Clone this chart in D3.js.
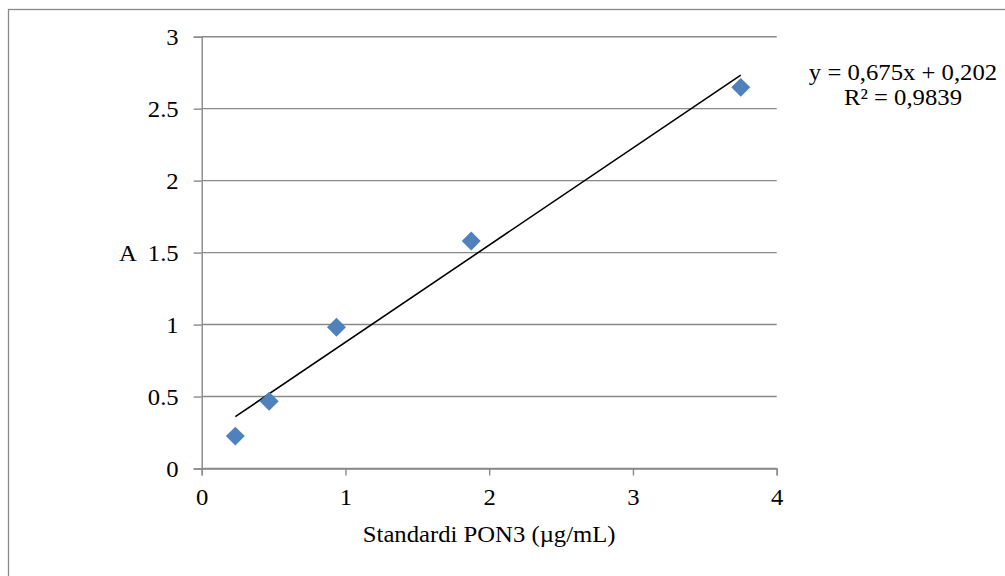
<!DOCTYPE html>
<html>
<head>
<meta charset="utf-8">
<script src="https://cdn.jsdelivr.net/npm/d3@7"></script>
<style>
  html, body { margin: 0; padding: 0; background: #fff; }
  svg { display: block; }
  text { font-family: "Liberation Serif", "Times New Roman", serif; fill: #000; }
</style>
</head>
<body>
<svg id="chart" width="1005" height="576"></svg>
<script>
// ---- data ----
const xValues = [0.234, 0.469, 0.9375, 1.875, 3.75];
const yValues = [0.225, 0.467, 0.982, 1.581, 2.648];
const xTicks = [0, 1, 2, 3, 4];
const yTicks = [0, 0.5, 1, 1.5, 2, 2.5, 3];
const trendSlope = 0.675;
const trendIntercept = 0.202;
const equationLines = ["y = 0,675x + 0,202", "R\u00B2 = 0,9839"];
const xTitle = "Standardi PON3 (\u00B5g/mL)";
const yTitle = "A";

// ---- layout ----
const W = 1005, H = 576;
const plot = { left: 201.7, right: 776.7, top: 36.7, bottom: 468.5 };
const fontSize = 23.5;
const stretch = 1.05;
const gridColor = "#898989";
const markerColor = "#4F81BD";
const serif = "'Liberation Serif', 'Times New Roman', serif";

const svg = d3.select("#chart");

// chart area border (left and top visible)
svg.append("rect")
  .attr("x", 8.5).attr("y", 9.5)
  .attr("width", W + 10).attr("height", H + 10)
  .attr("fill", "#fff")
  .attr("stroke", gridColor).attr("stroke-width", 1.3);

const x = d3.scaleLinear().domain([0, 4]).range([plot.left, plot.right]);
const y = d3.scaleLinear().domain([0, 3]).range([plot.bottom, plot.top]);

// gridlines
svg.append("g")
  .selectAll("line")
  .data(yTicks)
  .join("line")
  .attr("x1", plot.left).attr("x2", plot.right)
  .attr("y1", d => y(d)).attr("y2", d => y(d))
  .attr("stroke", gridColor).attr("stroke-width", 1.4);

function stretchText(sel) {
  sel.each(function () {
    const len = this.getComputedTextLength();
    d3.select(this).attr("textLength", len * stretch).attr("lengthAdjust", "spacingAndGlyphs");
  });
}

// y axis
const yAxis = svg.append("g")
  .attr("transform", `translate(${plot.left},0)`)
  .call(d3.axisLeft(y).tickValues(yTicks).tickSize(8).tickPadding(15).tickFormat(d3.format("")));
yAxis.attr("font-family", serif).attr("font-size", fontSize);
yAxis.select(".domain").attr("stroke", gridColor).attr("stroke-width", 1.4);
yAxis.selectAll(".tick line").attr("stroke", gridColor).attr("stroke-width", 1.4);
yAxis.selectAll(".tick text")
  .attr("fill", "#000")
  .call(stretchText);

// x axis
const xAxis = svg.append("g")
  .attr("transform", `translate(0,${plot.bottom})`)
  .call(d3.axisBottom(x).tickValues(xTicks).tickSize(7).tickPadding(13).tickFormat(d3.format("d")));
xAxis.attr("font-family", serif).attr("font-size", fontSize);
xAxis.select(".domain").attr("stroke", gridColor).attr("stroke-width", 1.4);
xAxis.selectAll(".tick line").attr("stroke", gridColor).attr("stroke-width", 1.4);
xAxis.selectAll(".tick text")
  .attr("fill", "#000")
  .call(stretchText);

// axis titles
svg.append("text")
  .attr("x", (plot.left + plot.right) / 2)
  .attr("y", 541.5)
  .attr("text-anchor", "middle")
  .attr("font-size", fontSize)
  .text(xTitle)
  .call(stretchText);

svg.append("text")
  .attr("x", 128)
  .attr("y", y(1.5))
  .attr("dy", "0.35em")
  .attr("text-anchor", "middle")
  .attr("font-size", fontSize)
  .text(yTitle)
  .call(stretchText);

// trendline
const xMin = d3.min(xValues), xMax = d3.max(xValues);
svg.append("line")
  .attr("x1", x(xMin)).attr("y1", y(trendSlope * xMin + trendIntercept))
  .attr("x2", x(xMax)).attr("y2", y(trendSlope * xMax + trendIntercept))
  .attr("stroke", "#000").attr("stroke-width", 1.6);

// markers (diamonds)
const pts = xValues.map((v, i) => ({ x: v, y: yValues[i] }));
svg.append("g")
  .selectAll("path")
  .data(pts)
  .join("path")
  .attr("transform", d => `translate(${x(d.x)},${y(d.y)}) rotate(45)`)
  .attr("d", d3.symbol().type(d3.symbolSquare).size(180))
  .attr("fill", markerColor);

// equation label
const eq = svg.append("text")
  .attr("text-anchor", "middle")
  .attr("font-size", fontSize);
eq.selectAll("tspan")
  .data(equationLines)
  .join("tspan")
  .attr("x", 903)
  .attr("y", (d, i) => 80 + i * 24.5)
  .text(d => d);
eq.selectAll("tspan").each(function () {
  const len = this.getComputedTextLength();
  d3.select(this).attr("textLength", len * stretch).attr("lengthAdjust", "spacingAndGlyphs");
});
</script>
</body>
</html>
